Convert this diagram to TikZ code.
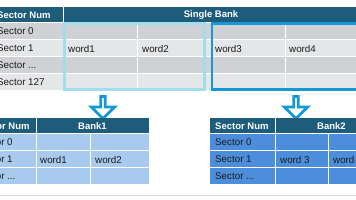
\documentclass[tikz,border=0pt]{standalone}
\usepackage{fontspec}
\setmainfont{Liberation Sans}
\usetikzlibrary{shapes.arrows}
\definecolor{headx}{HTML}{1E5C7C}
\definecolor{grayd}{HTML}{CFD1D5}
\definecolor{grayl}{HTML}{E5E6E8}
\definecolor{cyanx}{HTML}{A3DDEB}
\definecolor{bluex}{HTML}{1798D6}
\definecolor{paleb}{HTML}{A9CAEF}
\definecolor{midb}{HTML}{4C8EDB}
\definecolor{inkx}{HTML}{1C1C1C}
\tikzset{
  hd/.style={font=\fontsize{9.5}{11}\selectfont\bfseries,text=white,inner sep=0pt},
  tx/.style={font=\fontsize{9.8}{11}\selectfont,text=inkx,anchor=west,inner sep=0pt},
  sep/.style={white,line width=1pt},
  dn/.style={single arrow,draw=bluex,fill=white,line width=2.8pt,shape border rotate=270,
    minimum height=22pt,minimum width=23pt,single arrow head extend=6pt,inner sep=0pt}
}

\begin{document}
\begin{tikzpicture}[x=1pt,y=-1pt]
\useasboundingbox (0,0) rectangle (356,200);
\clip (0,0) rectangle (356,200);
% single bank
\fill[headx] (-8,7) rectangle (359,23);
\fill[grayd] (-8,23) rectangle (359,40);
\fill[grayl] (-8,40) rectangle (359,57);
\fill[grayd] (-8,57) rectangle (359,74);
\fill[grayl] (-8,74) rectangle (359,90);
\draw[sep] (-8,23)--(359,23) (-8,40)--(359,40) (-8,57)--(359,57) (-8,74)--(359,74);
\draw[sep] (63,7)--(63,90) (137,23)--(137,90) (211,23)--(211,90) (285,23)--(285,90);
\node[hd,anchor=west] (snum) at (-3,15) {Sector Num};
\node[hd] (sbank) at (211,15) {Single Bank};
\node[tx] (s0) at (-3,31.5) {Sector 0};
\node[tx] (s1) at (-3,48.5) {Sector 1};
\node[tx] (sx) at (-3,65.5) {Sector ...};
\node[tx] (s127) at (-3,82) {Sector 127};
\node[tx] (w1) at (68,48.5) {word1};
\node[tx] (w2) at (142,48.5) {word2};
\node[tx] (w3) at (215,48.5) {word3};
\node[tx] (w4) at (289,48.5) {word4};
\draw[cyanx,line width=2.5pt] (64.5,23.5) rectangle (204.5,89.5);
\draw[bluex,line width=2.5pt] (212,23.5) rectangle (362,89.5);
% arrows
\node[dn] (arrA) at (103,106.5) {};
\node[dn] (arrB) at (296,106.5) {};
% bank1
\fill[headx] (-29,118) rectangle (149,134);
\fill[paleb] (-29,134) rectangle (149,184);
\draw[sep] (-29,134)--(149,134) (-29,151)--(149,151) (-29,168)--(149,168);
\draw[sep] (36,118)--(36,184) (90,134)--(90,184);
\node[hd,anchor=west] (anum) at (-24,126) {Sector Num};
\node[hd] (bank1) at (92.5,126) {Bank1};
\node[tx] (a0) at (-24,142.5) {Sector 0};
\node[tx] (a1) at (-24,159.5) {Sector 1};
\node[tx] (ax) at (-24,176) {Sector ...};
\node[tx] (aw1) at (40,159.5) {word1};
\node[tx] (aw2) at (95,159.5) {word2};
% bank2
\fill[headx] (210,118) rectangle (387,134);
\fill[midb] (210,134) rectangle (387,184);
\draw[sep] (210,134)--(387,134) (210,151)--(387,151) (210,168)--(387,168);
\draw[sep] (275,118)--(275,184) (328,134)--(328,184);
\node[hd,anchor=west] (bnum) at (215,126) {Sector Num};
\node[hd] (bank2) at (331.5,126) {Bank2};
\node[tx] (b0) at (215,142.5) {Sector 0};
\node[tx] (b1) at (215,159.5) {Sector 1};
\node[tx] (bx) at (215,176) {Sector ...};
\node[tx] (bw3) at (280,159.5) {word 3};
\node[tx] (bw4) at (333,159.5) {word 4};
\draw[gray!30,line width=1.5pt] (0,195.5)--(356,195.5);
\end{tikzpicture}
\end{document}
